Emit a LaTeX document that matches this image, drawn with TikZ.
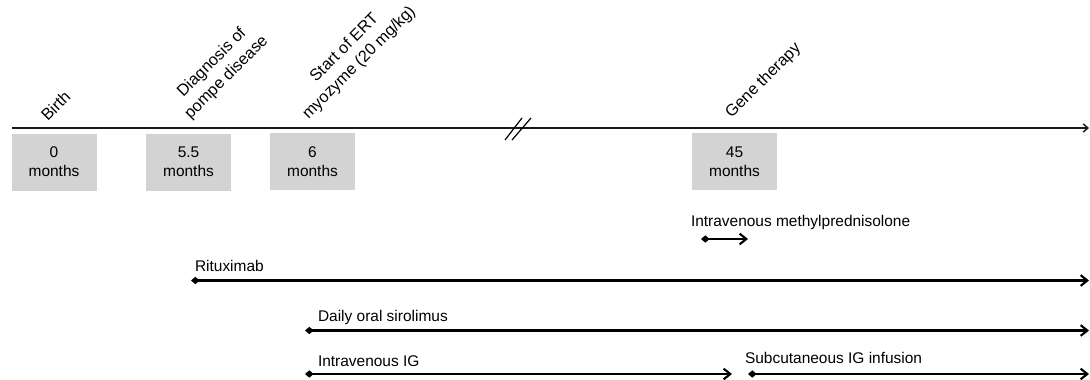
\documentclass[tikz,border=0pt]{standalone}
\usepackage{fontspec}
\setmainfont{Liberation Sans}
\usepackage{xcolor}
\usetikzlibrary{arrows.meta,positioning,calc}
\definecolor{agegray}{RGB}{211,211,211}

\begin{document}
\begin{tikzpicture}[x=0.75pt,y=-0.75pt,every node/.style={outer sep=0pt,font=\fontsize{11.6}{14}\selectfont}]
\tikzstyle{age}=[fill=agegray,minimum width=63.75pt,minimum height=42.75pt,align=center,inner sep=0pt]
\tikzstyle{event}=[rotate=45,anchor=south west,align=center,inner sep=0pt,font=\fontsize{12.2}{15.5}\selectfont]
\tikzstyle{drug}=[anchor=base west,inner sep=0pt]
\tikzstyle{treat}=[line width=1.8pt,{Diamond[length=6.5pt,width=5.5pt]}-{Straight Barb[length=5pt,width=8pt,line width=1.6pt]}]
\useasboundingbox (0,0) rectangle (1090,379);
% time axis
\coordinate (tl-start) at (12,128);
\coordinate (tl-end) at (1089,128);
\draw [line width=1.2pt,draw=black!90,-{Straight Barb[length=3.5pt,width=6pt,line width=1.1pt]}] (tl-start) -- (tl-end);
\draw [line width=0.9pt] (505,140) -- (522,118) (512,140) -- (531,118);
%
\node (b0) [age] at (54,162) {0\\months};
\node (b55) [age] at (188.5,162) {5.5\\months};
\node (b6) [age] at (312.5,161.5) {6\\months};
\node (b45) [age] at (734.5,161.5) {45\\months};
\node (birth) [event] at (48,122) {Birth};
\node (diag) [event] at (193,122) {Diagnosis of\\pompe disease};
\node (ert) [event] at (311,122) {Start of ERT\\myozyme (20 mg/kg)};
\node (gene) [event] at (734,121) {Gene therapy};
%
\coordinate (mp-s) at (701,239);  \coordinate (mp-e) at (748,239);
\coordinate (rx-s) at (191,280.5); \coordinate (rx-e) at (1089,280.5);
\coordinate (sr-s) at (305,330.5); \coordinate (sr-e) at (1089,330.5);
\coordinate (iv-s) at (305,374);  \coordinate (iv-e) at (732,374);
\coordinate (sc-s) at (748,374);  \coordinate (sc-e) at (1089,374);
\node (mp) [drug] at (691,226) {Intravenous methylprednisolone};
\node (rx) [drug] at (195,271) {Rituximab};
\node (sr) [drug] at (318,321) {Daily oral sirolimus};
\node (iv) [drug] at (318,366) {Intravenous IG};
\node (sc) [drug] at (745,363.5) {Subcutaneous IG infusion};
\draw [treat] (mp-s) -- (mp-e);
\draw [treat] (rx-s) -- (rx-e);
\draw [treat] (sr-s) -- (sr-e);
\draw [treat] (iv-s) -- (iv-e);
\draw [treat] (sc-s) -- (sc-e);
\end{tikzpicture}
\end{document}
